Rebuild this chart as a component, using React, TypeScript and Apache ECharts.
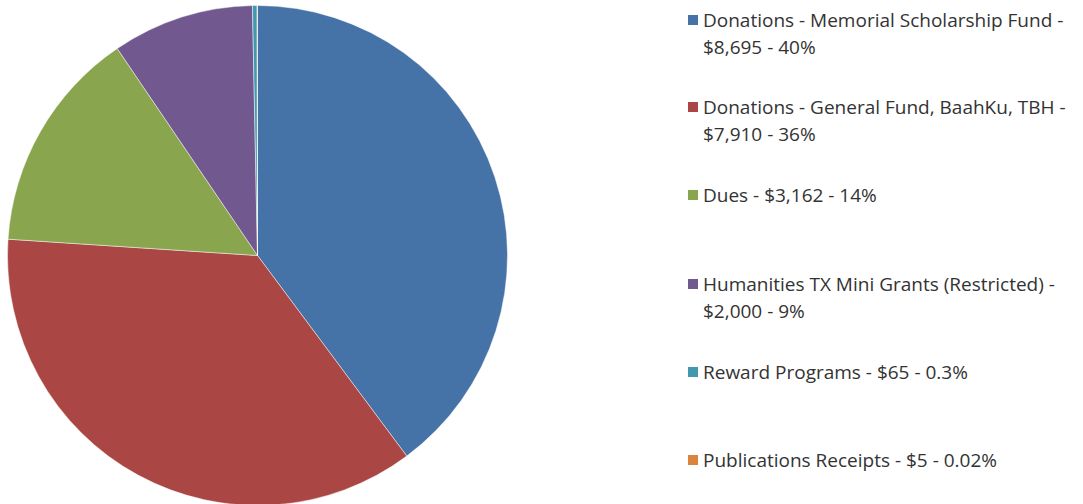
import React, { useEffect, useRef } from "react";
import * as echarts from "echarts";

const categories = [
  "Donations - Memorial Scholarship Fund",
  "Donations - General Fund, BaahKu, TBH",
  "Dues",
  "Humanities TX Mini Grants (Restricted)",
  "Reward Programs",
  "Publications Receipts",
];
const amounts = [8695, 7910, 3162, 2000, 65, 5];
const amountLabels = ["$8,695", "$7,910", "$3,162", "$2,000", "$65", "$5"];
const percentLabels = ["40%", "36%", "14%", "9%", "0.3%", "0.02%"];
const legendLines = [
  ["Donations - Memorial Scholarship Fund -", "$8,695 - 40%"],
  ["Donations - General Fund, BaahKu, TBH -", "$7,910 - 36%"],
  ["Dues - $3,162 - 14%", ""],
  ["Humanities TX Mini Grants (Restricted) -", "$2,000 - 9%"],
  ["Reward Programs - $65 - 0.3%", ""],
  ["Publications Receipts - $5 - 0.02%", ""],
];
const legendRows = [20, 107, 195, 284, 372, 460];
const colors = ["#4572A7", "#AA4643", "#89A54E", "#71588F", "#4198AF", "#DB843D"];

export default function App() {
  const ref = useRef<HTMLDivElement>(null);
  useEffect(() => {
    if (!ref.current) return;
    const chart = echarts.init(ref.current, null, { renderer: "svg" });
    const legendGraphics: any[] = [];
    legendLines.forEach((lines, i) => {
      const cy = legendRows[i];
      legendGraphics.push({
        type: "rect",
        left: 688,
        top: cy - 5,
        shape: { x: 0, y: 0, width: 10, height: 10 },
        style: { fill: colors[i] },
      });
      legendGraphics.push({
        type: "text",
        x: 703,
        y: cy - 14,
        style: {
          text: lines.filter((l) => l).join("\n"),
          fill: "#333333",
          font: "19px 'Open Sans'",
          lineHeight: 27,
          verticalAlign: "top",
          align: "left",
        },
      });
    });
    chart.setOption({
      animation: false,
      backgroundColor: "#ffffff",
      color: colors,
      legend: { show: false },
      graphic: legendGraphics,
      series: [
        {
          type: "pie",
          center: [257.5, 255.5],
          radius: 250,
          startAngle: 90,
          clockwise: true,
          label: { show: false },
          labelLine: { show: false },
          emphasis: { disabled: true },
          itemStyle: { borderColor: "rgba(255,255,255,0.6)", borderWidth: 0.8 },
          data: categories.map((c, i) => ({
            name: `${c} - ${amountLabels[i]} - ${percentLabels[i]}`,
            value: amounts[i],
          })),
        },
      ],
    });
    return () => chart.dispose();
  }, []);
  return (
    <div
      ref={ref}
      style={{ position: "fixed", left: 0, top: 0, width: 1083, height: 504 }}
    />
  );
}
